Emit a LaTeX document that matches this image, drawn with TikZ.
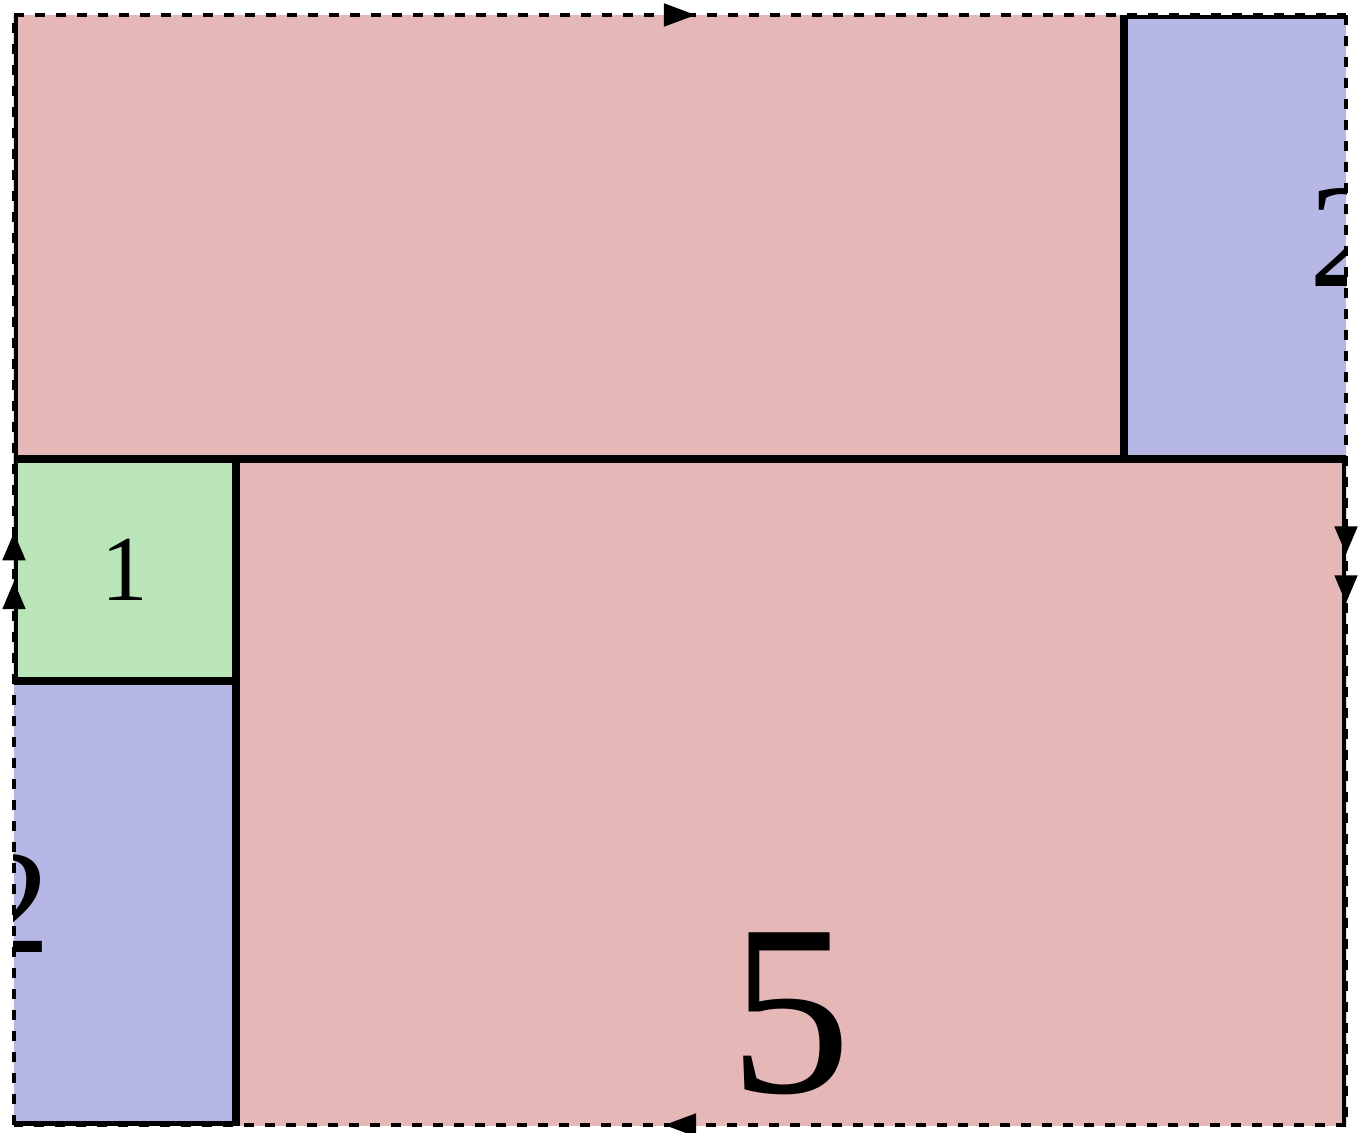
\documentclass[tikz,border=0pt]{standalone}
\usepackage{fontspec}
\setmainfont{Liberation Serif}
\usetikzlibrary{arrows.meta,decorations.markings}
\definecolor{pinkT}{RGB}{229,183,183}
\definecolor{blueT}{RGB}{183,183,229}
\definecolor{greenT}{RGB}{185,229,185}
\begin{document}
\begin{tikzpicture}[x=111pt,y=-111pt,
  tile/.style={draw=black,line width=3.8pt},
  bound/.style={draw=black,line width=2.4pt,dash pattern=on 5pt off 5.5pt},
  tipat/.style={postaction={decorate},decoration={markings,mark=at position #1 with {\arrow{Triangle[length=16pt,width=11pt]}}}},
  tiptwo/.style 2 args={postaction={decorate},decoration={markings,
     mark=at position #1 with {\arrow{Triangle[length=14pt,width=11pt]}},
     mark=at position #2 with {\arrow{Triangle[length=14pt,width=11pt]}}}}]
\useasboundingbox (-0.063,-0.0676) rectangle (6.0586,5.036);
\begin{scope}
  \clip (0,0) rectangle (6,5);
  \path[tile,fill=pinkT] (1,2) rectangle (6,7);
  \path[tile,fill=pinkT] (0,-3) rectangle (5,2);
  \path[tile,fill=blueT] (-1,3) rectangle (1,5);
  \path[tile,fill=blueT] (5,0) rectangle (7,2);
  \path[tile,fill=greenT] (0,2) rectangle (1,3);
  \node[inner sep=0pt,font=\fontsize{46.5}{50}\selectfont] (l1) at (0.5,2.5) {1};
  \node[inner sep=0pt,font=\fontsize{74}{80}\selectfont] (l2a) at (0,4) {2};
  \node[inner sep=0pt,font=\fontsize{74}{80}\selectfont] (l2b) at (6,1) {2};
  \node[inner sep=0pt,font=\fontsize{122}{130}\selectfont] (l5) at (3.5,4.5) {5};
\end{scope}
\coordinate (tl) at (0,0);
\coordinate (tr) at (6,0);
\coordinate (br) at (6,5);
\coordinate (bl) at (0,5);
\draw[bound,tipat=0.512] (tl) -- (tr);
\draw[bound,tipat=0.512] (br) -- (bl);
\draw[bound,tiptwo={0.49}{0.534}] (bl) -- (tl);
\draw[bound,tiptwo={0.486}{0.53}] (tr) -- (br);
\end{tikzpicture}
\end{document}
